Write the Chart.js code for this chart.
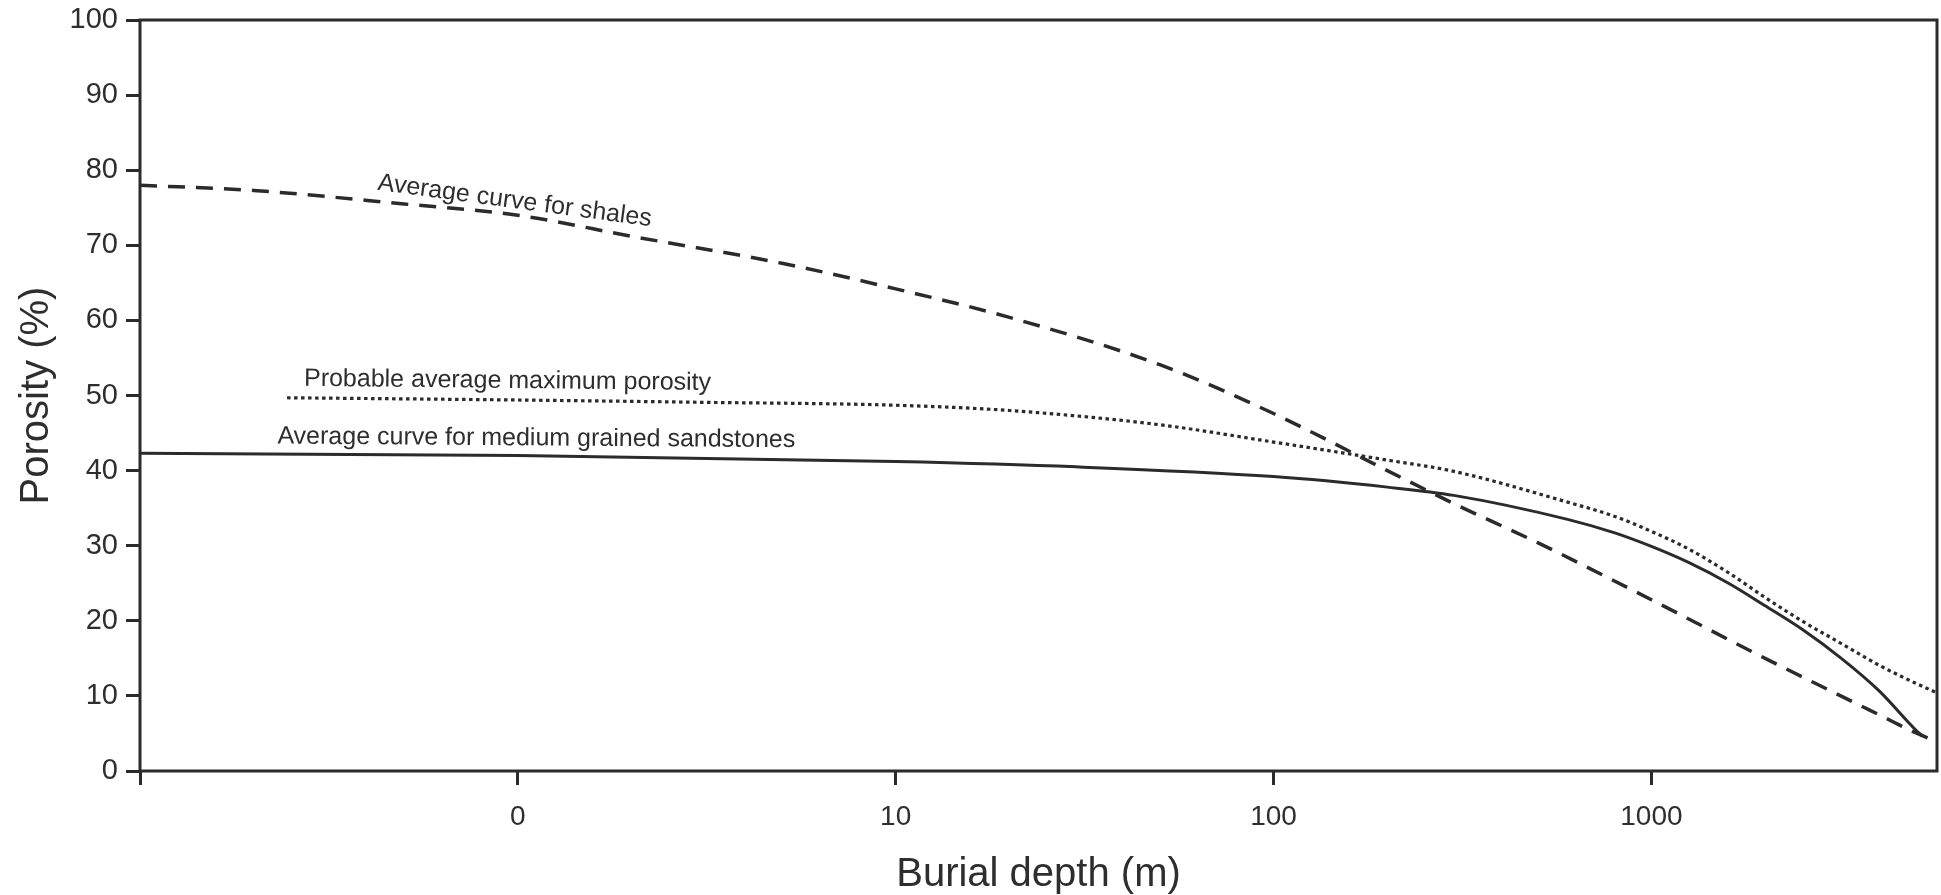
<!DOCTYPE html>
<html>
<head>
<meta charset="utf-8">
<title>Porosity versus burial depth</title>
<script src="https://cdn.jsdelivr.net/npm/chart.js@4.4.1/dist/chart.umd.min.js"></script>
<style>
  html, body { margin: 0; padding: 0; background: #ffffff; }
  #wrap { width: 1941px; height: 895px; }
</style>
</head>
<body>
<div id="wrap"><canvas id="chart" width="1941" height="895"></canvas></div>
<script>
// Burial depth ticks (m) on a logarithmic axis and the text printed under each
const depthTicks = [0.1, 1, 10, 100, 1000];
const depthTickLabels = ['', '0', '10', '100', '1000'];

// Average curve for shales
const shaleDepth = [0.1, 0.2, 0.5, 1, 2, 5, 10, 20, 50, 100, 200, 300, 500, 1000, 2000, 3000, 4000, 5000, 5700];
const shalePorosity = [78.0, 77.3, 75.5, 74.0, 71.2, 67.6, 64.2, 60.4, 54.1, 47.6, 40.0, 35.6, 30.4, 22.8, 15.0, 10.6, 7.5, 5.1, 3.9];

// Probable average maximum porosity
const maxDepth = [0.245, 1, 3, 10, 20, 50, 100, 200, 300, 600, 800, 1000, 1250, 1600, 2000, 2500, 3200, 4000, 5000, 5700];
const maxPorosity = [49.7, 49.4, 49.1, 48.7, 48.0, 46.1, 43.8, 41.4, 39.9, 35.8, 33.9, 31.9, 29.6, 26.4, 23.1, 20.0, 16.9, 14.1, 11.7, 10.4];

// Average curve for medium grained sandstones
const sandDepth = [0.1, 1, 10, 30, 100, 200, 300, 600, 800, 1000, 1250, 1600, 2000, 2500, 3200, 4000, 5000, 5200];
const sandPorosity = [42.3, 42.0, 41.2, 40.5, 39.2, 37.8, 36.7, 33.5, 31.7, 29.9, 27.8, 25.0, 22.0, 18.9, 14.9, 10.7, 5.5, 4.7];

const INK = '#2b2b2b';
const TEXT = '#2e2e2e';
const FONT = '"Liberation Sans", Arial, Helvetica, sans-serif';

function toPoints(xs, ys) {
  return xs.map((x, i) => ({ x: x, y: ys[i] }));
}

// In-plot curve captions, anchored in data units (depth, porosity)
const captions = [
  { text: 'Average curve for shales', depth: 0.424, porosity: 77.4, angle: 7.6 },
  { text: 'Probable average maximum porosity', depth: 0.2716, porosity: 51.3, angle: 0.6 },
  { text: 'Average curve for medium grained sandstones', depth: 0.231, porosity: 43.6, angle: 0.4 }
];

const frame = {
  id: 'frame',
  beforeDatasetsDraw(chart) {
    const { ctx, chartArea: a } = chart;
    ctx.save();
    ctx.strokeStyle = INK;
    ctx.lineWidth = 3;
    ctx.strokeRect(a.left, a.top, a.right - a.left, a.bottom - a.top);
    ctx.restore();
  }
};

const captionPlugin = {
  id: 'captions',
  afterDatasetsDraw(chart) {
    const { ctx, scales } = chart;
    ctx.save();
    ctx.fillStyle = TEXT;
    ctx.font = '25px ' + FONT;
    ctx.textAlign = 'left';
    ctx.textBaseline = 'alphabetic';
    captions.forEach(c => {
      const px = scales.x.getPixelForValue(c.depth);
      const py = scales.y.getPixelForValue(c.porosity);
      ctx.save();
      ctx.translate(px, py);
      ctx.rotate(c.angle * Math.PI / 180);
      ctx.fillText(c.text, 0, 0);
      ctx.restore();
    });
    ctx.restore();
  }
};

new Chart(document.getElementById('chart'), {
  type: 'line',
  data: {
    datasets: [
      {
        label: 'Average curve for shales',
        data: toPoints(shaleDepth, shalePorosity),
        borderColor: INK,
        borderWidth: 3.5,
        borderDash: [17, 11],
        borderCapStyle: 'butt',
        pointRadius: 0,
        cubicInterpolationMode: 'monotone',
        fill: false
      },
      {
        label: 'Probable average maximum porosity',
        data: toPoints(maxDepth, maxPorosity),
        borderColor: INK,
        borderWidth: 3.2,
        borderDash: [3.5, 3.5],
        borderCapStyle: 'butt',
        pointRadius: 0,
        cubicInterpolationMode: 'monotone',
        fill: false
      },
      {
        label: 'Average curve for medium grained sandstones',
        data: toPoints(sandDepth, sandPorosity),
        borderColor: INK,
        borderWidth: 3,
        pointRadius: 0,
        cubicInterpolationMode: 'monotone',
        fill: false
      }
    ]
  },
  options: {
    responsive: false,
    animation: false,
    devicePixelRatio: 1,
    layout: { padding: { top: 20, right: 4, left: 0, bottom: 0 } },
    plugins: {
      legend: { display: false },
      tooltip: { enabled: false }
    },
    scales: {
      x: {
        type: 'logarithmic',
        min: 0.1,
        max: 5700,
        afterBuildTicks(scale) {
          scale.ticks = depthTicks.map(v => ({ value: v }));
        },
        afterFit(scale) {
          scale.height = 124;
          scale.paddingLeft = 0;
          scale.paddingRight = 0;
        },
        ticks: {
          autoSkip: false,
          maxRotation: 0,
          padding: 15,
          color: TEXT,
          font: { family: FONT, size: 28 },
          callback: (value, index) => depthTickLabels[index]
        },
        grid: {
          drawOnChartArea: false,
          drawTicks: true,
          tickLength: 14,
          tickWidth: 3,
          color: INK
        },
        border: { display: false },
        title: {
          display: true,
          text: 'Burial depth (m)',
          color: TEXT,
          font: { family: FONT, size: 40, lineHeight: 1 },
          padding: { top: 1, bottom: 0 }
        }
      },
      y: {
        type: 'linear',
        min: 0,
        max: 100,
        afterFit(scale) {
          scale.width = 140;
          scale.paddingTop = 0;
          scale.paddingBottom = 0;
        },
        ticks: {
          stepSize: 10,
          padding: 8,
          color: TEXT,
          font: { family: FONT, size: 29 }
        },
        grid: {
          drawOnChartArea: false,
          drawTicks: true,
          tickLength: 14,
          tickWidth: 3,
          color: INK
        },
        border: { display: false },
        title: {
          display: true,
          text: 'Porosity (%)',
          color: TEXT,
          font: { family: FONT, size: 40, lineHeight: 1 },
          padding: { top: 17, bottom: 0 }
        }
      }
    }
  },
  plugins: [frame, captionPlugin]
});
</script>
</body>
</html>
